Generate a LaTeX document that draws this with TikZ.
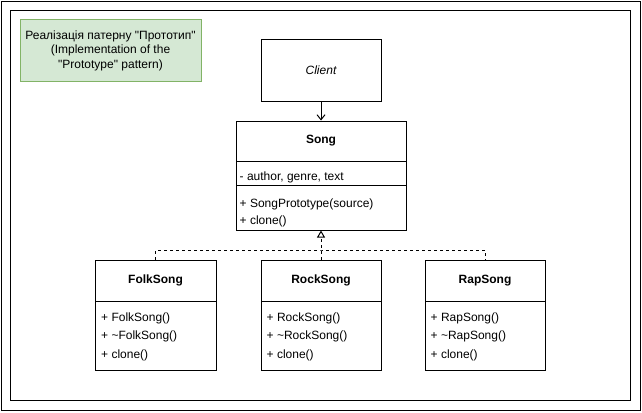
\documentclass[tikz,border=0pt]{standalone}
\usepackage{fontspec}
\setmainfont{Liberation Sans}[Ligatures=TeXOff]
\usetikzlibrary{arrows.meta}
\definecolor{notefill}{HTML}{D5E8D4}
\definecolor{notedraw}{HTML}{82B366}
\begin{document}
\begin{tikzpicture}[x=1pt,y=-1pt,
  font=\fontsize{12}{14.5}\selectfont,
  frame/.style={draw=black, line width=1pt},
  classbox/.style={draw=black, line width=1pt, fill=white, inner sep=0pt},
  classtitle/.style={inner sep=0pt, font=\fontsize{12}{14.5}\selectfont\bfseries},
  member/.style={anchor=base west, inner sep=0pt},
  divider/.style={draw=black, line width=1pt},
  realize/.style={draw=black, line width=1pt, dash pattern=on 3pt off 3pt},
  uses/.style={draw=black, line width=1pt, -{Straight Barb[length=5pt,width=8pt]}}
]
\useasboundingbox (0,0) rectangle (642,412);
\draw[frame] (1.5,1.5) rectangle (640.5,410.5);
\draw[frame] (10.5,10.5) rectangle (630.5,400.5);

% note
\node[draw=notedraw, fill=notefill, line width=1pt, minimum width=181pt, minimum height=61pt,
      align=center, inner sep=0pt] (note) at (110.5,50.5)
  {Реалізація патерну "Прототип"\\(Implementation of the\\"Prototype" pattern)};

% client
\node[classbox, minimum width=120pt, minimum height=61pt, font=\fontsize{12}{14.5}\selectfont\itshape] (client) at (321,70.5) {Client};

% Song
\node[classbox, minimum width=170pt, minimum height=109pt] (song) at (321,175.5) {};
\node[classtitle] (songT) at (321,141) {Song};
\draw[divider] (236,161) -- (406,161);
\draw[divider] (236,185) -- (406,185);
\node[member] (songA) at (239.5,180) {- author, genre, text};
\node[member] (songM1) at (239.5,207.5) {+ SongPrototype(source)};
\node[member] (songM2) at (239.5,224) {+ clone()};

% FolkSong
\node[classbox, minimum width=121pt, minimum height=110pt] (folk) at (155.5,315) {};
\node[classtitle] (folkT) at (155.5,280.5) {FolkSong};
\draw[divider] (95,301) -- (216,301);
\node[member] (folkM1) at (101,321) {+ FolkSong()};
\node[member] (folkM2) at (101,339.5) {+ \textasciitilde FolkSong()};
\node[member] (folkM3) at (101,358) {+ clone()};

% RockSong
\node[classbox, minimum width=120pt, minimum height=110pt] (rock) at (321,315) {};
\node[classtitle] (rockT) at (321,280.5) {RockSong};
\draw[divider] (261,301) -- (381,301);
\node[member] (rockM1) at (266.5,321) {+ RockSong()};
\node[member] (rockM2) at (266.5,339.5) {+ \textasciitilde RockSong()};
\node[member] (rockM3) at (266.5,358) {+ clone()};

% RapSong
\node[classbox, minimum width=120pt, minimum height=110pt] (rap) at (485,315) {};
\node[classtitle] (rapT) at (485,280.5) {RapSong};
\draw[divider] (425,301) -- (545,301);
\node[member] (rapM1) at (430.5,321) {+ RapSong()};
\node[member] (rapM2) at (430.5,339.5) {+ \textasciitilde RapSong()};
\node[member] (rapM3) at (430.5,358) {+ clone()};

% connectors
\draw[uses] (client.south) -- (song.north);
\coordinate (bar) at (321,250);
\draw[realize] (folk.north) |- (bar) -| (rap.north);
\draw[realize, -{Triangle[open,length=7pt,width=8pt]}] (rock.north) -- (song.south);
\end{tikzpicture}
\end{document}
